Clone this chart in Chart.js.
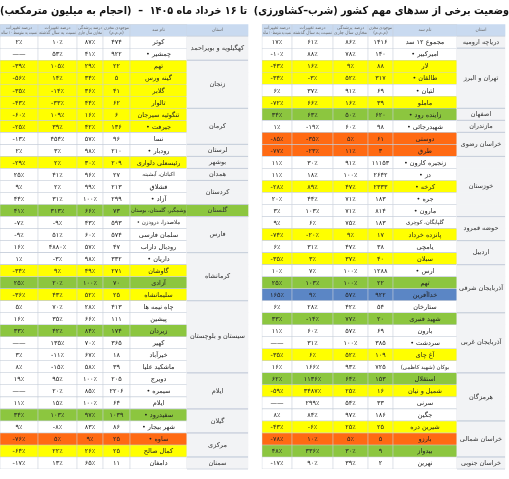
<!DOCTYPE html>
<html><head><meta charset="utf-8">
<script src="https://cdn.jsdelivr.net/npm/chart.js@4"></script>
<style>html,body{margin:0;padding:0;background:#fff}#c{display:block}</style>
</head><body>
<div style="width:509px;height:479px"><canvas id="c"></canvas></div>
<script>
// right table (first in reading order)
const rightProv = ["دریاچه ارومیه","تهران و البرز","تهران و البرز","تهران و البرز","تهران و البرز","تهران و البرز","اصفهان","مازندران","خراسان رضوی","خراسان رضوی","خوزستان","خوزستان","خوزستان","خوزستان","خوزستان","حوضه قمرود","حوضه قمرود","اردبیل","اردبیل","آذربایجان شرقی","آذربایجان شرقی","آذربایجان شرقی","آذربایجان شرقی","آذربایجان غربی","آذربایجان غربی","آذربایجان غربی","آذربایجان غربی","آذربایجان غربی","هرمزگان","هرمزگان","هرمزگان","هرمزگان","خراسان شمالی","خراسان شمالی","خراسان شمالی","خراسان جنوبی"];
const rightDam = ["مجموع ۱۲ سد","• امیرکبیر","لار","• طالقان","• لتیان","ماملو","• زاینده رود","• شهیدرجائی","دوستی","طرق","• زنجیره کارون","• دز","• کرخه","• جره","• مارون","گلپایگان، کوچری","پانزده خرداد","یامچی","سبلان","• ارس","تهم","خداآفرین","ستارخان","شهید قنبری","بارون","• سردشت","آغ چای","بوکان (شهید کاظمی)","استقلال","شمیل و نیان","سرنی","جگین","شیرین دره","بارزو","بیدواز","نهرین"];
const rightVol = [1416,140,88,317,69,39,620,98,61,3,11153,2642,2333,183,814,183,17,38,40,1288,22,922,54,20,69,385,109,725,153,16,33,186,25,5,9,2];
const rightFill = [86,78,9,52,91,16,50,60,5,11,91,100,47,71,71,75,9,47,37,100,100,57,42,77,57,100,52,93,64,25,54,97,25,5,30,39];
const rightYoY = [61,88,16,-3,37,66,63,-19,-35,-23,30,18,89,44,103,6,-20,31,3,7,103,9,28,-14,60,31,6,166,1136,3487,299,84,-6,10,336,90];
const rightAvg = [17,-10,-43,-34,6,-72,34,1,-85,-77,11,11,-28,20,3,9,-74,6,-35,10,25,165,6,33,11,null,-35,16,62,-59,null,8,-43,-78,48,-17];
const rightColor = "wwyywygwoowwywwwywywgbwgwwywgywwyogw";

// left table
const leftProv = ["کهگیلویه و بویراحمد","کهگیلویه و بویراحمد","زنجان","زنجان","زنجان","زنجان","کرمان","کرمان","کرمان","لرستان","بوشهر","همدان","کردستان","کردستان","گلستان","فارس","فارس","فارس","کرمانشاه","کرمانشاه","کرمانشاه","کرمانشاه","سیستان و بلوچستان","سیستان و بلوچستان","سیستان و بلوچستان","سیستان و بلوچستان","سیستان و بلوچستان","سیستان و بلوچستان","ایلام","ایلام","ایلام","گیلان","گیلان","مرکزی","مرکزی","سمنان"];
const leftDam = ["کوثر","• چمشیر","تهم","گینه ورس","گلابر","تالوار","تنگوئیه سیرجان","• جیرفت","نسا","• رودبار","رئیسعلی دلواری","اکباتان، آبشینه","قشلاق","• آزاد","وشمگیر، گلستان، بوستان","• ملاصدرا، درودزن","سلمان فارسی","رودبال داراب","• داریان","گاوشان","آزادی","سلیمانشاه","چاه نیمه ها","پیشین","زیردان","کهیر","خیرآباد","ماشکید علیا","دویرج","• سیمره","ایلام","• سفیدرود","• شهر بیجار","• ساوه","کمال صالح","دامغان"];
const leftVol = [474,922,22,5,41,62,6,136,96,210,209,27,213,299,73,593,574,47,332,271,70,25,413,111,174,365,18,39,205,2206,64,1039,86,25,25,11];
const leftFill = [87,41,29,34,36,44,16,42,57,98,30,96,99,100,66,43,60,57,98,49,100,52,28,66,84,70,67,58,100,85,100,97,83,9,26,65];
const leftYoY = [10,53,105,14,-14,-33,109,39,454,3,2,41,2,31,313,-9,51,4880,-3,9,20,43,70,35,42,135,-11,-15,95,20,15,103,-8,5,22,13];
const leftAvg = [2,null,-39,-56,-35,-43,-60,-25,-13,2,-29,25,9,44,41,-7,-9,16,1,-34,25,-36,5,16,33,null,3,8,19,null,11,34,9,-76,-64,-17];
const leftColor = "wwyyyyyywwywwwgwwwwygywwgwwwwwwgwoyw";

const headers = [["استان"],["نام سد"],["موجودی مخزن","(م.م.م)"],["درصد پرشدگی","مخازن سال جاری"],["درصد تغییرات","نسبت به سال گذشته"],["درصد تغییرات","نسبت به متوسط ۱۰ ساله"]];
const colours = {w:"#ffffff", y:"#ffff00", g:"#8cc63f", o:"#ff6a13", b:"#5b86c5"};

const fa = n => String(Math.abs(n)).replace(/\d/g, d => "۰۱۲۳۴۵۶۷۸۹"[d]);
const num = v => v == null ? "——" : fa(v);
const pct = v => v == null ? "——" : (v < 0 ? "-" : "") + fa(v) + "٪";

const rows = ["h"].concat(rightDam.map((_, i) => "r" + i));

function makeTable(prov, dam, vol, fill, yoy, avg, colStr, bounds) {
  const cols = [prov.map(() => ""), dam, vol.map(num), fill.map(pct), yoy.map(pct), avg.map(pct)];
  return cols.map((texts, c) => ({
    data: rows.map(() => bounds[c]),
    texts: [""].concat(texts),
    header: headers[c],
    isProv: c === 0,
    provNames: prov,
    backgroundColor: rows.map((_, r) => {
      if (r === 0) return "#c9daf0";
      if (c === 0) return prov[r - 1] === "گلستان" ? "#8cc63f" : "#f2f3f5";
      return colours[colStr[r - 1]];
    }),
    borderColor: "#c6ceda",
    borderWidth: c === 0 ? 0 : 0.6,
    borderSkipped: false,
    barPercentage: 1,
    categoryPercentage: 1
  }));
}

const rightBounds = [[457,505],[393,457],[368,393],[333,368],[292,333],[262,292]];
const leftBounds = [[187,248],[130,187],[103,130],[77,103],[38,77],[0,38]];

const datasets = makeTable(rightProv, rightDam, rightVol, rightFill, rightYoY, rightAvg, rightColor, rightBounds)
  .concat(makeTable(leftProv, leftDam, leftVol, leftFill, leftYoY, leftAvg, leftColor, leftBounds));

const cellText = {
  id: "cellText",
  afterDatasetsDraw(chart) {
    const ctx = chart.ctx;
    const y = chart.scales.y;
    ctx.save();
    ctx.textAlign = "center";
    ctx.textBaseline = "middle";
    chart.data.datasets.forEach((ds, di) => {
      const els = chart.getDatasetMeta(di).data;
      els.forEach((el, r) => {
        const cx = (el.x + el.base) / 2;
        const w = Math.abs(el.x - el.base) - 2;
        if (r === 0) {
          ctx.fillStyle = "#6b6b6b";
          ctx.font = "4.5px 'DejaVu Sans'";
          const h = ds.header;
          h.forEach((line, k) => ctx.fillText(line, cx, el.y + (k - (h.length - 1) / 2) * 5, w));
          return;
        }
        if (ds.isProv) return;
        ctx.fillStyle = "#222";
        ctx.font = (ds.texts[r].length > 14 ? "5.5px" : "6.5px") + " 'DejaVu Sans'";
        ctx.fillText(ds.texts[r], cx, el.y + 0.5, w);
      });
      if (ds.isProv) {
        const names = ds.provNames;
        let start = 0;
        for (let i = 1; i <= names.length; i++) {
          if (i === names.length || names[i] !== names[start]) {
            const top = y.getPixelForValue(start + 1) - els[1].height / 2;
            const bot = y.getPixelForValue(i) + els[1].height / 2;
            ctx.strokeStyle = "#c6ceda";
            ctx.lineWidth = 0.8;
            ctx.beginPath();
            ctx.moveTo(els[0].base, bot); ctx.lineTo(els[0].x, bot);
            ctx.moveTo(els[0].base, top); ctx.lineTo(els[0].x, top);
            ctx.stroke();
            ctx.fillStyle = "#333";
            ctx.font = "6.5px 'DejaVu Sans'";
            ctx.fillText(names[start], (els[0].x + els[0].base) / 2, (top + bot) / 2, Math.abs(els[0].x - els[0].base) - 2);
            start = i;
          }
        }
      }
    });
    ctx.restore();
  }
};

new Chart(document.getElementById("c"), {
  type: "bar",
  data: { labels: rows, datasets: datasets },
  options: {
    indexAxis: "y",
    responsive: true,
    maintainAspectRatio: false,
    animation: false,
    layout: { padding: { top: 0, bottom: 10, left: 0, right: 0 } },
    scales: {
      x: { type: "linear", min: 0, max: 509, display: false, stacked: false },
      y: { display: false, stacked: true }
    },
    plugins: {
      legend: { display: false },
      tooltip: { enabled: false },
      title: {
        display: true,
        text: "وضعیت برخی از سدهای مهم کشور (شرب–کشاورزی)  تا ۱۶ خرداد ماه ۱۴۰۵  –  (احجام به میلیون مترمکعب)",
        color: "#111",
        font: { family: "'DejaVu Sans'", size: 11, weight: "bold" },
        padding: { top: 5, bottom: 6 }
      }
    }
  },
  plugins: [cellText]
});
</script>
</body></html>
